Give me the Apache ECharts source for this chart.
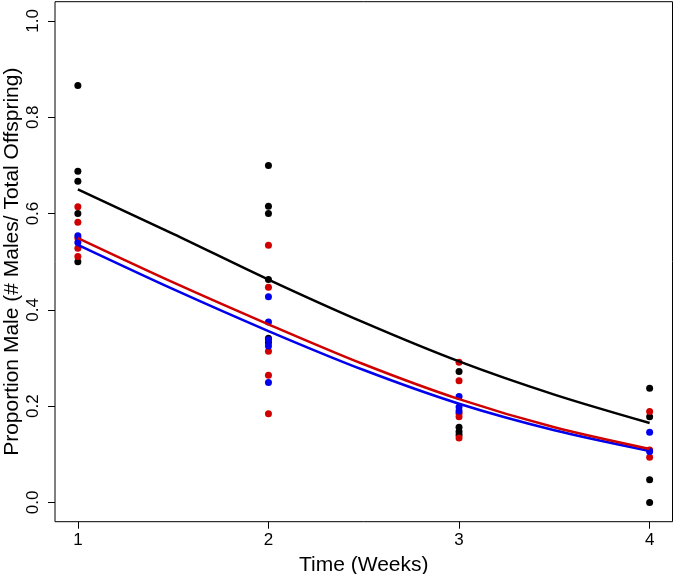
<!DOCTYPE html>
<html><head><meta charset="utf-8">
<script src="https://cdn.jsdelivr.net/npm/echarts@6/dist/echarts.min.js"></script>
<style>html,body{margin:0;padding:0;background:#fff;}#c{width:677px;height:574px;}</style>
</head><body><div id="c"></div>
<script>
// Tick labels
const xTicks = [1, 2, 3, 4];
const yTicks = [0, 0.2, 0.4, 0.6, 0.8, 1.0];

// Observed proportions per week (index 0 -> week 1, ...)
const blackObs = [
  [0.866, 0.688, 0.667, 0.600, 0.500],
  [0.700, 0.615, 0.600, 0.463, 0.341, 0.332],
  [0.272, 0.156, 0.147, 0.140],
  [0.237, 0.178, 0.047, 0.000]
];
const redObs = [
  [0.614, 0.582, 0.549, 0.528, 0.511],
  [0.534, 0.447, 0.314, 0.264, 0.184],
  [0.291, 0.253, 0.185, 0.178, 0.134],
  [0.189, 0.109, 0.094]
];
const blueObs = [
  [0.554, 0.540],
  [0.427, 0.375, 0.338, 0.325, 0.249],
  [0.220, 0.198, 0.190],
  [0.146, 0.106]
];

// Fitted curves
const fitX = [1, 1.5, 2, 2.5, 3, 3.5, 4];
const blackFit = [0.650, 0.558, 0.463, 0.374, 0.293, 0.224, 0.165];
const redFit   = [0.549, 0.457, 0.370, 0.287, 0.2145, 0.156, 0.111];
const blueFit  = [0.535, 0.443, 0.356, 0.275, 0.205, 0.150, 0.107];

const FONT = 'Liberation Sans, Arial, sans-serif';
function pts(obs) {
  const out = [];
  obs.forEach((vals, i) => vals.forEach(v => out.push([xTicks[i], v])));
  return out;
}
function curve(ys) { return fitX.map((x, i) => [x, ys[i]]); }

const chart = echarts.init(document.getElementById('c'), null, {renderer: 'canvas'});
chart.setOption({
  animation: false,
  backgroundColor: '#fff',
  grid: {left: 55, right: 4.5, top: 1.7, bottom: 52.3, show: true, borderColor: '#000', borderWidth: 1, containLabel: false, outerBoundsMode: 'none'},
  xAxis: {
    type: 'value', min: 0.88, max: 4.12,
    name: 'Time (Weeks)', nameLocation: 'middle', nameGap: 33, nameMoveOverlap: false,
    nameTextStyle: {fontFamily: FONT, fontSize: 21, color: '#000'},
    axisLine: {show: false, onZero: false},
    axisTick: {show: true, inside: false, length: 7, lineStyle: {color: '#000', width: 1}, customValues: xTicks},
    axisLabel: {fontFamily: FONT, fontSize: 17, color: '#000', margin: 10, customValues: xTicks, formatter: v => String(v)},
    splitLine: {show: false}
  },
  yAxis: {
    type: 'value', min: -0.04, max: 1.04,
    name: 'Proportion Male (# Males/ Total Offspring)', nameLocation: 'middle', nameGap: 32, nameRotate: 90, nameMoveOverlap: false,
    nameTextStyle: {fontFamily: FONT, fontSize: 21, color: '#000'},
    axisLine: {show: false, onZero: false},
    axisTick: {show: true, inside: false, length: 7, lineStyle: {color: '#000', width: 1}, customValues: yTicks},
    axisLabel: {fontFamily: FONT, fontSize: 17, color: '#000', margin: 13, rotate: 90, customValues: yTicks, formatter: v => v.toFixed(1)},
    splitLine: {show: false}
  },
  series: [
    {type: 'scatter', data: pts(blackObs), symbolSize: 7, itemStyle: {color: '#000', opacity: 1}, z: 2},
    {type: 'scatter', data: pts(redObs), symbolSize: 7, itemStyle: {color: '#d00000', opacity: 1}, z: 2},
    {type: 'scatter', data: pts(blueObs), symbolSize: 7, itemStyle: {color: '#0000ee', opacity: 1}, z: 2},
    {type: 'line', data: curve(blackFit), smooth: 0.3, showSymbol: false, symbol: 'none', lineStyle: {color: '#000', width: 2.5}, z: 3},
    {type: 'line', data: curve(blueFit), smooth: 0.3, showSymbol: false, symbol: 'none', lineStyle: {color: '#0000ee', width: 2.5}, z: 3},
    {type: 'line', data: curve(redFit), smooth: 0.3, showSymbol: false, symbol: 'none', lineStyle: {color: '#d00000', width: 2.5}, z: 4}
  ]
});
</script></body></html>
